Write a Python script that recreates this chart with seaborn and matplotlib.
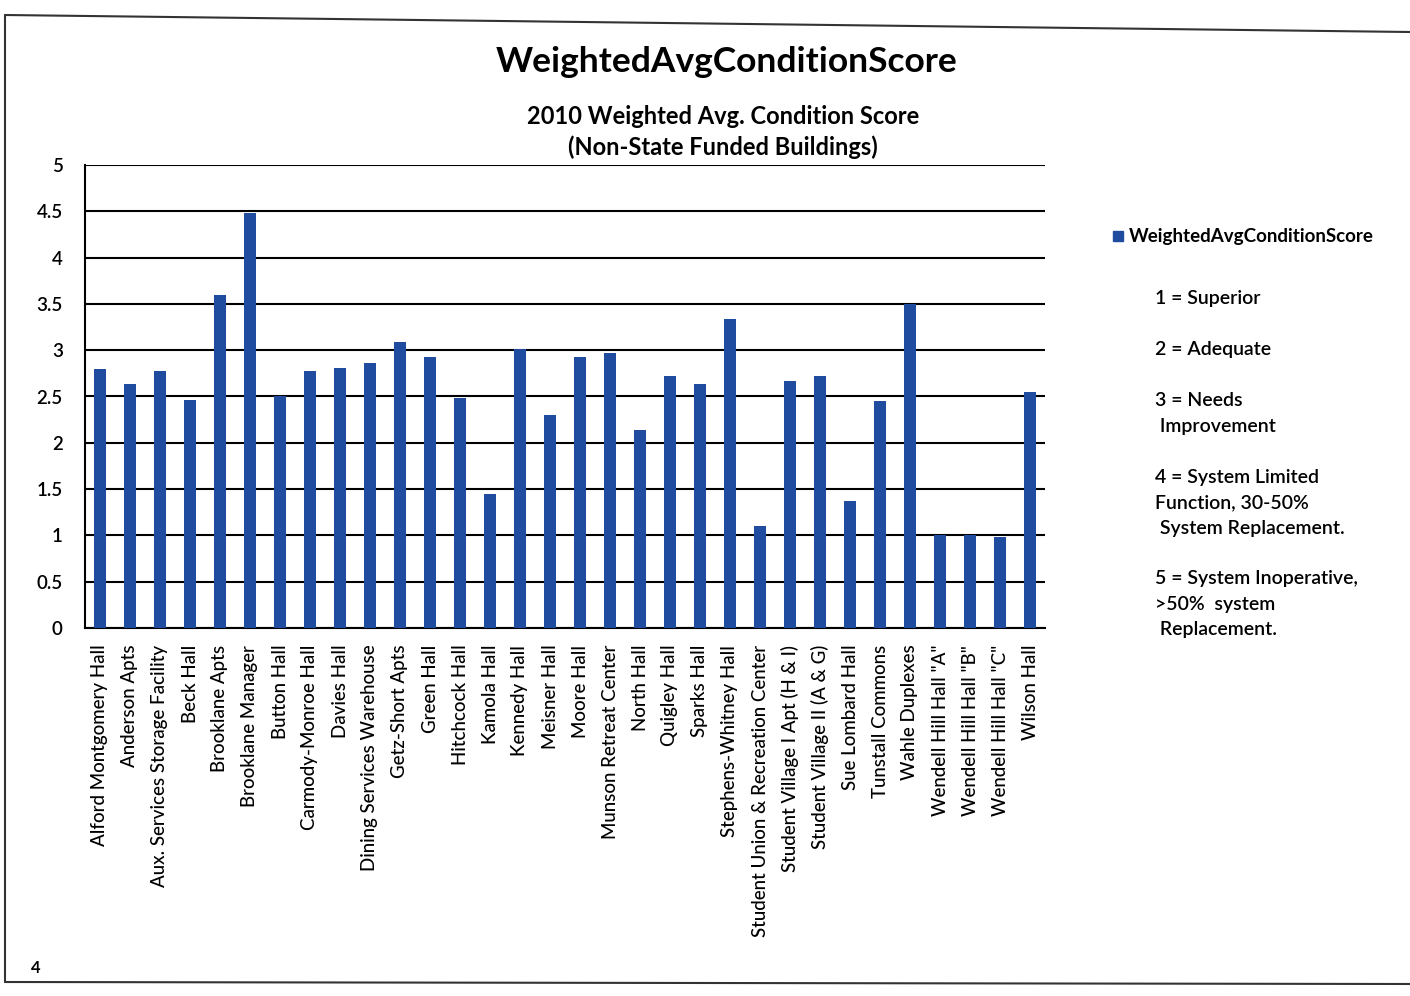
import matplotlib
matplotlib.use("Agg")
import matplotlib.pyplot as plt
import numpy as np
import pandas as pd
import seaborn as sns
from matplotlib.lines import Line2D
from matplotlib.patches import Rectangle

# Buildings and their 2010 weighted average condition scores
buildings = [
    "Alford Montgomery Hall", "Anderson Apts", "Aux. Services Storage Facility",
    "Beck Hall", "Brooklane Apts", "Brooklane Manager", "Button Hall",
    "Carmody-Monroe Hall", "Davies Hall", "Dining Services Warehouse",
    "Getz-Short Apts", "Green Hall", "Hitchcock Hall", "Kamola Hall",
    "Kennedy Hall", "Meisner Hall", "Moore Hall", "Munson Retreat Center",
    "North Hall", "Quigley Hall", "Sparks Hall", "Stephens-Whitney Hall",
    "Student Union & Recreation Center", "Student Village I Apt (H & I)",
    "Student Village II (A & G)", "Sue Lombard Hall", "Tunstall Commons",
    "Wahle Duplexes", 'Wendell Hill Hall "A"', 'Wendell Hill Hall "B"',
    'Wendell Hill Hall "C"', "Wilson Hall",
]
scores = [
    2.80, 2.64, 2.77, 2.46, 3.60, 4.48, 2.51, 2.78, 2.81, 2.86,
    3.09, 2.93, 2.48, 1.45, 3.01, 2.30, 2.93, 2.97, 2.14, 2.72,
    2.63, 3.34, 1.10, 2.67, 2.72, 1.37, 2.45, 3.50, 1.00, 1.00,
    0.98, 2.55,
]
y_ticks = [0, 0.5, 1, 1.5, 2, 2.5, 3, 3.5, 4, 4.5, 5]
y_tick_labels = ["0", "0.5", "1", "1.5", "2", "2.5", "3", "3.5", "4", "4.5", "5"]
series_name = "WeightedAvgConditionScore"
key_lines = [
    "1 = Superior",
    "2 = Adequate",
    "3 = Needs\n Improvement",
    "4 = System Limited\nFunction, 30-50%\n System Replacement.",
    "5 = System Inoperative,\n>50%  system\n Replacement.",
]

df = pd.DataFrame({"Building": buildings, "Score": scores})

sns.set_style("white")
plt.rcParams["font.family"] = ["Lato", "DejaVu Sans"]
plt.rcParams["text.color"] = "black"
plt.rcParams["xtick.color"] = "black"
plt.rcParams["ytick.color"] = "black"

BAR = "#1f4c9f"
fig = plt.figure(figsize=(14.10, 9.96), dpi=100)
ax = fig.add_axes([85 / 1410, 1 - 628 / 996, 960 / 1410, 463 / 996])

sns.barplot(data=df, x="Building", y="Score", color=BAR, width=0.42,
            saturation=1, ax=ax, edgecolor="none", zorder=3)

ax.set_ylim(0, 5)
ax.set_xlim(-0.5, len(buildings) - 0.5)
ax.set_yticks(y_ticks)
ax.set_yticklabels(y_tick_labels, fontsize=13.5, fontweight="semibold")
ax.yaxis.grid(True, color="black", linewidth=1.5, zorder=1)
ax.set_axisbelow(True)

ax.set_xticks(np.arange(len(buildings)))
ax.set_xticklabels(buildings, rotation=90, fontsize=13.5, ha="center",
                   va="top", fontweight="medium")
ax.set_xticks(np.arange(-0.5, len(buildings)), minor=True)
ax.tick_params(axis="x", which="major", length=0, pad=12)
ax.tick_params(axis="x", which="minor", length=8, width=1.5, color="black")
ax.tick_params(axis="y", length=6, width=1.5, color="black", pad=10)
ax.set_xlabel("")
ax.set_ylabel("")

for side in ("top", "right"):
    ax.spines[side].set_visible(False)
for side in ("left", "bottom"):
    ax.spines[side].set_color("black")
    ax.spines[side].set_linewidth(1.5)

# Titles
fig.text(727 / 1410, 1 - 62 / 996, "WeightedAvgConditionScore",
         ha="center", va="center", fontsize=25.5, fontweight="bold")
fig.text(723 / 1410, 1 - 116 / 996, "2010 Weighted Avg. Condition Score",
         ha="center", va="center", fontsize=17, fontweight="bold")
fig.text(723 / 1410, 1 - 147 / 996, "(Non-State Funded Buildings)",
         ha="center", va="center", fontsize=17, fontweight="bold")

# Legend entry
fig.add_artist(Rectangle((1113 / 1410, 1 - 241 / 996), 10 / 1410, 10 / 996,
                         transform=fig.transFigure, color=BAR))
fig.text(1129 / 1410, 1 - 236 / 996, series_name, ha="left", va="center",
         fontsize=13.5, fontweight="bold")

# Score key
key_y = [301, 352, 403, 480, 581]
for yy, txt in zip(key_y, key_lines):
    fig.text(1155 / 1410, 1 - (yy - 11) / 996, txt, ha="left", va="top",
             fontsize=14, linespacing=1.62, fontweight="semibold")

# Page frame and page number
fig.add_artist(Line2D([5 / 1410, 1.0], [1 - 15 / 996, 1 - 32 / 996],
                      transform=fig.transFigure, color="#333333", lw=1.5))
fig.add_artist(Line2D([5 / 1410, 5 / 1410], [1 - 15 / 996, 1 - 982 / 996],
                      transform=fig.transFigure, color="#333333", lw=1.5))
fig.add_artist(Line2D([5 / 1410, 1.0], [1 - 982 / 996, 1 - 984 / 996],
                      transform=fig.transFigure, color="#333333", lw=1.5))
fig.text(36 / 1410, 1 - 968 / 996, "4", ha="center", va="center",
         fontsize=12, fontweight="bold")

fig.savefig("out.png", dpi=100)
